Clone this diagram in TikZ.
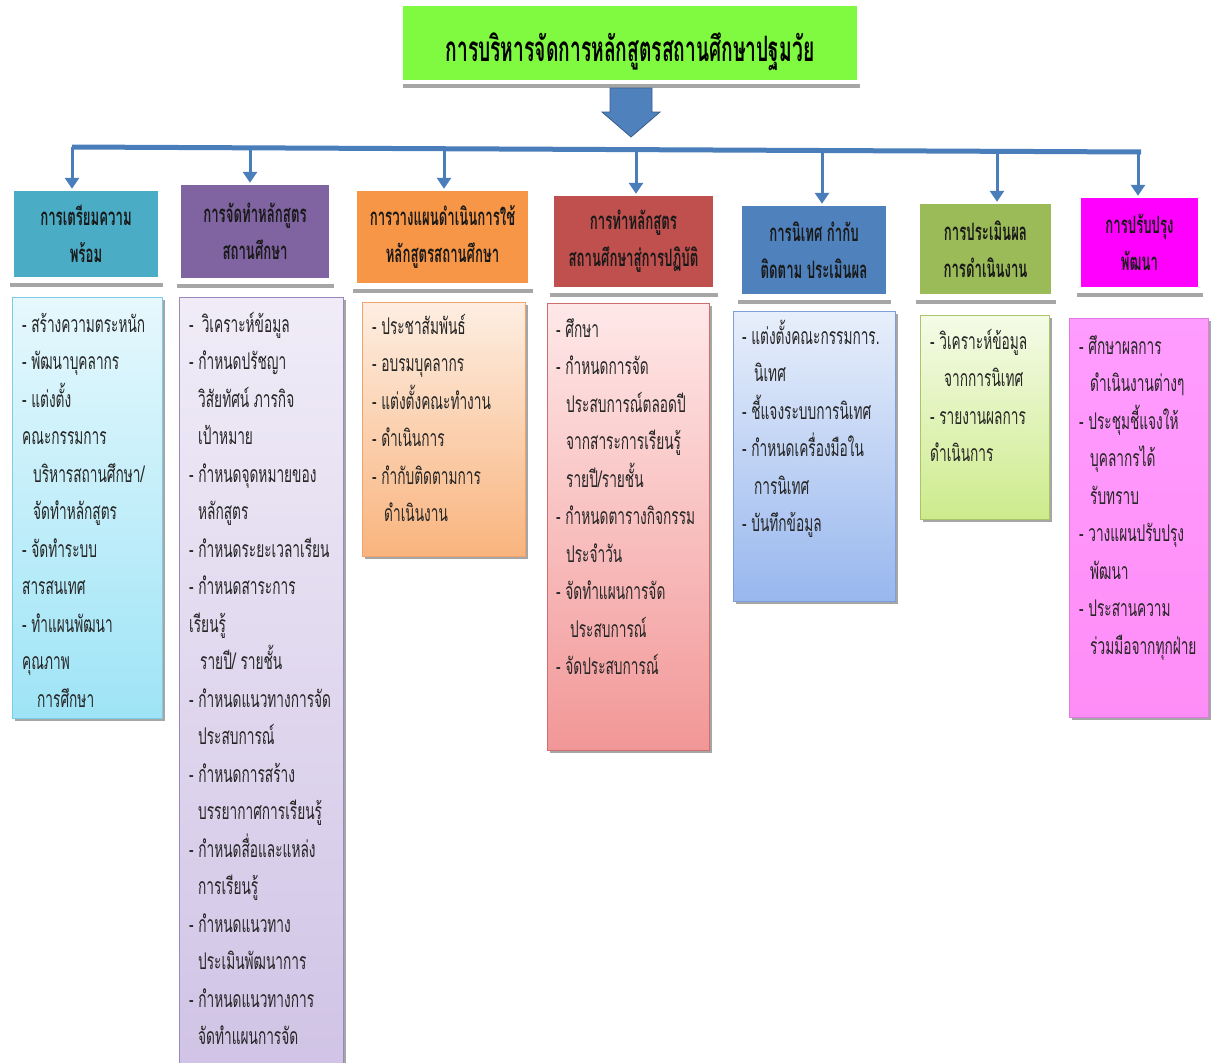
\documentclass[tikz,border=0pt]{standalone}
\usepackage{fontspec}
\newfontfamily\thai[Script=Thai,FakeStretch=0.595]{Loma}
\newfontfamily\thaihd[Script=Thai,FakeStretch=0.55]{Loma}
\newfontfamily\thaitt[Script=Thai,FakeStretch=0.55]{Loma}
\usetikzlibrary{arrows.meta,shadows}
\definecolor{titlegreen}{RGB}{127,250,64}
\definecolor{cteal}{HTML}{4BACC6}
\definecolor{cpurple}{HTML}{8064A2}
\definecolor{corange}{HTML}{F79646}
\definecolor{cred}{HTML}{C0504D}
\definecolor{cblue}{HTML}{4F81BD}
\definecolor{colive}{HTML}{9BBB59}
\definecolor{cmag}{HTML}{FF00FF}
\definecolor{linkblue}{HTML}{4A7EBB}
\definecolor{arrowedge}{HTML}{385D8A}
\definecolor{barGray}{HTML}{A6A6A6}
\definecolor{c1top}{HTML}{E6F8FD}\definecolor{c1bot}{HTML}{9EE4F6}\definecolor{c1edge}{HTML}{7CCDE3}
\definecolor{c2top}{HTML}{F0ECF7}\definecolor{c2bot}{HTML}{CFC2E5}\definecolor{c2edge}{HTML}{9A88BD}
\definecolor{c3top}{HTML}{FDEEE2}\definecolor{c3bot}{HTML}{F9B47E}\definecolor{c3edge}{HTML}{F2A26B}
\definecolor{c4top}{HTML}{FFE8E8}\definecolor{c4bot}{HTML}{F29797}\definecolor{c4edge}{HTML}{CF6F6D}
\definecolor{c5top}{HTML}{E8EFFB}\definecolor{c5bot}{HTML}{98B7EE}\definecolor{c5edge}{HTML}{7E9FD8}
\definecolor{c6top}{HTML}{F5FBE8}\definecolor{c6bot}{HTML}{CDEB8C}\definecolor{c6edge}{HTML}{A8C56A}
\definecolor{c7top}{HTML}{FF9CFF}\definecolor{c7bot}{HTML}{FF8DF7}\definecolor{c7edge}{HTML}{E07AE0}
\tikzset{
  hdrbox/.style={draw=none, inner sep=0, align=center, text=black!90,
    font=\thaihd\bfseries\fontsize{24}{37}\selectfont},
  cbox/.style={draw=#1, line width=0.8pt, inner sep=0,
    drop shadow={shadow xshift=2.5pt, shadow yshift=-3pt, fill=gray!70, opacity=1}},
  bodytext/.style={anchor=north west, inner sep=0, align=left, text=black!85,
    font=\thai\fontsize{23}{37.5}\selectfont},
  graybar/.style={draw=barGray, line width=3.5pt},
  link/.style={draw=linkblue, line width=3pt, -{Triangle[width=14pt,length=11pt]}},
}
\newcommand{\fl}{\rule{0pt}{25pt}}
\begin{document}
\begin{tikzpicture}[x=1pt,y=-1pt]
\useasboundingbox[fill=white] (0,0) rectangle (1211,1063);

% title
\node[fill=titlegreen, minimum width=454, minimum height=74, inner sep=0] (title) at (630,43) {};
\node[inner sep=0, font=\thaitt\bfseries\fontsize{35}{36}\selectfont] (ttext) at ([yshift=-9pt]title.center) {การบริหารจัดการหลักสูตรสถานศึกษาปฐมวัย};
\draw[graybar] ([xshift=0pt,yshift=-6pt]title.south west) -- ([xshift=3pt,yshift=-6pt]title.south east);

% block arrow
\coordinate (ba) at (631,88);
\fill[cblue, draw=arrowedge, line width=0.8pt]
  ([xshift=-21pt]ba) -- ([xshift=21pt]ba) -- ([xshift=21pt,yshift=-24pt]ba) -- ([xshift=29pt,yshift=-24pt]ba)
  -- ([yshift=-49pt]ba) -- ([xshift=-29pt,yshift=-24pt]ba) -- ([xshift=-21pt,yshift=-24pt]ba) -- cycle;

% headers
\node[hdrbox, fill=cteal, minimum width=144, minimum height=86] (h1) at (86,234) {การเตรียมความ\\พร้อม};
\node[hdrbox, fill=cpurple, minimum width=148, minimum height=93] (h2) at (255,231.5) {การจัดทำหลักสูตร\\สถานศึกษา};
\node[hdrbox, fill=corange, minimum width=171, minimum height=92] (h3) at (442.5,237) {การวางแผนดำเนินการใช้\\หลักสูตรสถานศึกษา};
\node[hdrbox, fill=cred, minimum width=159, minimum height=91] (h4) at (633.5,241.5) {การทำหลักสูตร\\สถานศึกษาสู่การปฏิบัติ};
\node[hdrbox, fill=cblue, minimum width=144, minimum height=88] (h5) at (814,250) {การนิเทศ กำกับ\\ติดตาม ประเมินผล};
\node[hdrbox, fill=colive, minimum width=131, minimum height=90] (h6) at (985.5,249) {การประเมินผล\\การดำเนินงาน};
\node[hdrbox, fill=cmag, minimum width=117, minimum height=89] (h7) at (1139.5,242.5) {การปรับปรุง\\พัฒนา};

\foreach \h in {h1,h2,h3,h4,h5,h6,h7}{
  \draw[graybar] ([xshift=-4pt,yshift=-8pt]\h.south west) -- ([xshift=5pt,yshift=-8pt]\h.south east);
}

% connector bar
\coordinate (bl) at (72,147);
\coordinate (br) at (1141,152);
\draw[draw=linkblue, line width=5pt] (bl) -- (br);
\coordinate (b1) at (72,147);
\coordinate (b2) at (250,147.8);
\coordinate (b3) at (444,148.7);
\coordinate (b4) at (636,149.6);
\coordinate (b5) at (822,150.5);
\coordinate (b6) at (997,151.3);
\coordinate (b7) at (1138,152);
\foreach \i in {1,...,7}{
  \draw[link] (b\i) -- ([yshift=2pt]b\i |- h\i.north);
}

% content boxes
\node[cbox=c1edge, top color=c1top, bottom color=c1bot, minimum width=150, minimum height=421] (c1) at (87,507.5) {};
\node[cbox=c2edge, top color=c2top, bottom color=c2bot, minimum width=164, minimum height=800] (c2) at (261,697) {};
\node[cbox=c3edge, top color=c3top, bottom color=c3bot, minimum width=163, minimum height=254] (c3) at (443.5,429) {};
\node[cbox=c4edge, top color=c4top, bottom color=c4bot, minimum width=162, minimum height=447] (c4) at (628,526.5) {};
\node[cbox=c5edge, top color=c5top, bottom color=c5bot, minimum width=162, minimum height=290] (c5) at (814,456) {};
\node[cbox=c6edge, top color=c6top, bottom color=c6bot, minimum width=129, minimum height=204] (c6) at (984.5,417) {};
\node[cbox=c7edge, top color=c7top, bottom color=c7bot, minimum width=139, minimum height=399] (c7) at (1138.5,517.5) {};

% content texts
\node[bodytext] (t1) at (22,307) {\fl- สร้างความตระหนัก\\
- พัฒนาบุคลากร\\
- แต่งตั้ง\\
คณะกรรมการ\\
\hspace*{11pt}บริหารสถานศึกษา/\\
\hspace*{11pt}จัดทำหลักสูตร\\
- จัดทำระบบ\\
สารสนเทศ\\
- ทำแผนพัฒนา\\
คุณภาพ\\
\hspace*{15pt}การศึกษา};

\node[bodytext] (t2) at (189,307) {\fl-\hspace*{8pt}วิเคราะห์ข้อมูล\\
- กำหนดปรัชญา\\
\hspace*{9pt}วิสัยทัศน์ ภารกิจ\\
\hspace*{9pt}เป้าหมาย\\
- กำหนดจุดหมายของ\\
\hspace*{9pt}หลักสูตร\\
- กำหนดระยะเวลาเรียน\\
- กำหนดสาระการ\\
เรียนรู้\\
\hspace*{11pt}รายปี/ รายชั้น\\
- กำหนดแนวทางการจัด\\
\hspace*{9pt}ประสบการณ์\\
- กำหนดการสร้าง\\
\hspace*{9pt}บรรยากาศการเรียนรู้\\
- กำหนดสื่อและแหล่ง\\
\hspace*{9pt}การเรียนรู้\\
- กำหนดแนวทาง\\
\hspace*{9pt}ประเมินพัฒนาการ\\
- กำหนดแนวทางการ\\
\hspace*{9pt}จัดทำแผนการจัด};

\node[bodytext] (t3) at (372,309) {\fl- ประชาสัมพันธ์\\
- อบรมบุคลากร\\
- แต่งตั้งคณะทำงาน\\
- ดำเนินการ\\
- กำกับติดตามการ\\
\hspace*{12pt}ดำเนินงาน};

\node[bodytext] (t4) at (556,312) {\fl- ศึกษา\\
- กำหนดการจัด\\
\hspace*{10pt}ประสบการณ์ตลอดปี\\
\hspace*{10pt}จากสาระการเรียนรู้\\
\hspace*{10pt}รายปี/รายชั้น\\
- กำหนดตารางกิจกรรม\\
\hspace*{10pt}ประจำวัน\\
- จัดทำแผนการจัด\\
\hspace*{14pt}ประสบการณ์\\
- จัดประสบการณ์};

\node[bodytext] (t5) at (742,319) {\fl- แต่งตั้งคณะกรรมการ.\\
\hspace*{12pt}นิเทศ\\
- ชี้แจงระบบการนิเทศ\\
- กำหนดเครื่องมือใน\\
\hspace*{12pt}การนิเทศ\\
- บันทึกข้อมูล};

\node[bodytext] (t6) at (930,324) {\fl- วิเคราะห์ข้อมูล\\
\hspace*{14pt}จากการนิเทศ\\
- รายงานผลการ\\
ดำเนินการ};

\node[bodytext] (t7) at (1079,329) {\fl- ศึกษาผลการ\\
\hspace*{11pt}ดำเนินงานต่างๆ\\
- ประชุมชี้แจงให้\\
\hspace*{11pt}บุคลากรได้\\
\hspace*{11pt}รับทราบ\\
- วางแผนปรับปรุง\\
\hspace*{11pt}พัฒนา\\
- ประสานความ\\
\hspace*{11pt}ร่วมมือจากทุกฝ่าย};
\end{tikzpicture}
\end{document}
